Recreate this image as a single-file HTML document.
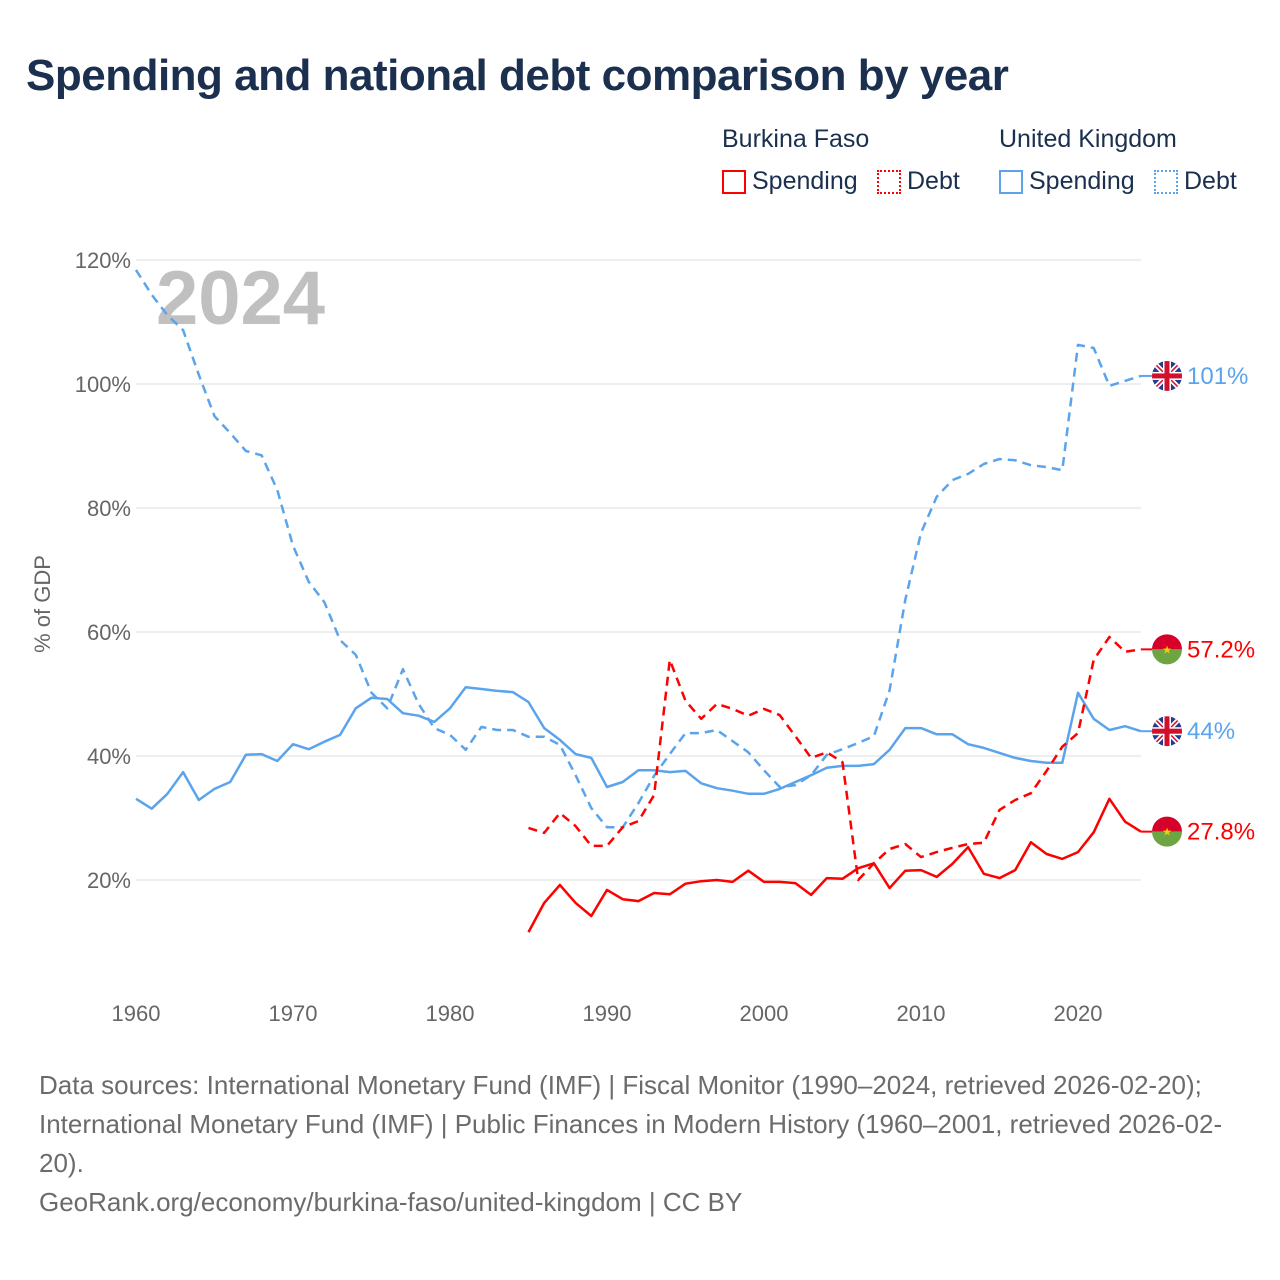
<!DOCTYPE html>
<html><head><meta charset="utf-8"><style>
body{margin:0;background:#fff;font-family:"Liberation Sans",sans-serif;}
#wrap{position:relative;width:1280px;height:1280px;overflow:hidden;}
.t{position:absolute;white-space:nowrap;}
</style></head><body>
<div id="wrap">
<div class="t" style="left:26px;top:51px;font-size:44px;font-weight:bold;color:#1b2f4e;letter-spacing:-0.5px">Spending and national debt comparison by year</div>
<div class="t" style="left:722px;top:125px;font-size:25px;color:#1b2f4e">Burkina Faso</div>
<div class="t" style="left:999px;top:125px;font-size:25px;color:#1b2f4e">United Kingdom</div>
<div class="t" style="left:722px;top:167px;font-size:25px;color:#1b2f4e"><span style="display:inline-block;width:24px;height:24px;border:2px solid #f00;vertical-align:-5px;margin-right:6px;box-sizing:border-box"></span>Spending</div>
<div class="t" style="left:877px;top:167px;font-size:25px;color:#1b2f4e"><span style="display:inline-block;width:24px;height:24px;border:2px dotted #f00;vertical-align:-5px;margin-right:6px;box-sizing:border-box"></span>Debt</div>
<div class="t" style="left:999px;top:167px;font-size:25px;color:#1b2f4e"><span style="display:inline-block;width:24px;height:24px;border:2px solid #5ba4ec;vertical-align:-5px;margin-right:6px;box-sizing:border-box"></span>Spending</div>
<div class="t" style="left:1154px;top:167px;font-size:25px;color:#1b2f4e"><span style="display:inline-block;width:24px;height:24px;border:2px dotted #5ba4ec;vertical-align:-5px;margin-right:6px;box-sizing:border-box"></span>Debt</div>
<svg id="chart" width="1280" height="1280" style="position:absolute;left:0;top:0" xmlns="http://www.w3.org/2000/svg"></svg>
<div class="t" style="left:39px;top:1066px;font-size:26px;line-height:39px;color:#6b6b6b">Data sources: International Monetary Fund (IMF) | Fiscal Monitor (1990–2024, retrieved 2026-02-20);<br>International Monetary Fund (IMF) | Public Finances in Modern History (1960–2001, retrieved 2026-02-<br>20).<br>GeoRank.org/economy/burkina-faso/united-kingdom | CC BY</div>
</div>
<script>
const yTicks=[20,40,60,80,100,120];
const xTicks=[1960,1970,1980,1990,2000,2010,2020];
const ukYears0=1960, bfYears0=1985;
const ukSpending=[33.1,31.5,33.9,37.4,32.9,34.7,35.8,40.2,40.3,39.2,41.9,41.1,42.3,43.4,47.7,49.4,49.2,46.9,46.5,45.5,47.7,51.1,50.8,50.5,50.3,48.7,44.5,42.6,40.3,39.7,35,35.8,37.7,37.7,37.4,37.6,35.6,34.8,34.4,33.9,33.9,34.7,35.8,36.9,38.1,38.4,38.4,38.7,41,44.5,44.5,43.5,43.5,41.9,41.3,40.5,39.7,39.2,38.9,38.9,50.2,46,44.2,44.8,44];
const ukDebt=[118.4,114.4,111.1,108.7,101.5,94.8,92.1,89.2,88.5,82.9,73.9,68.1,64.8,58.7,56.3,50.2,47.7,54,48.4,44.5,43.4,41,44.7,44.2,44.2,43.1,43.1,41.8,36.9,31.6,28.5,28.5,32.4,36.8,40.3,43.7,43.7,44.2,42.4,40.6,37.7,35,35.3,36.9,40.2,41.1,42.1,43.2,50.6,65.2,76,81.8,84.5,85.5,87.1,87.9,87.7,86.9,86.6,86.1,106.3,105.8,99.7,100.5,101.3];
const bfSpending=[11.6,16.3,19.2,16.3,14.2,18.4,16.9,16.6,17.9,17.7,19.4,19.8,20,19.7,21.5,19.7,19.7,19.5,17.6,20.3,20.2,21.9,22.7,18.7,21.5,21.6,20.5,22.6,25.3,21,20.3,21.6,26.1,24.2,23.4,24.5,27.7,33.1,29.4,27.8];
const bfDebt=[28.4,27.6,30.8,28.7,25.5,25.5,28.5,29.5,33.7,55.5,48.9,46,48.4,47.6,46.5,47.6,46.6,43.2,39.7,40.6,39,20,22.7,25,25.8,23.7,24.5,25.2,25.8,26,31.3,32.9,34,37.6,41.5,43.7,55.5,59.2,56.8,57.2];
const endLabels=["101%","57.2%","44%","27.8%"];

const NS="http://www.w3.org/2000/svg";
const svg=document.getElementById('chart');
const X=yr=>136+(yr-1960)*15.7;
const Y=v=>1004-v*6.2;
function mk(tag,attrs,parent){const e=document.createElementNS(NS,tag);for(const k in attrs)e.setAttribute(k,attrs[k]);(parent||svg).appendChild(e);return e;}
function txt(s,x,y,attrs){const e=mk('text',Object.assign({x:x,y:y,'font-family':'Liberation Sans, sans-serif'},attrs));e.textContent=s;return e;}

yTicks.forEach(v=>{
  const l=mk('line',{x1:136,x2:1141,y1:Y(v),y2:Y(v),stroke:'#e8e8e8','stroke-width':1.5});
  
  
  const t=txt(v+'%',131,Y(v)+8,{'font-size':22,fill:'#666','text-anchor':'end'});
  
  
});
xTicks.forEach(yr=>{
  const t=txt(String(yr),X(yr),1021,{'font-size':22,fill:'#666','text-anchor':'middle'});
  
  
});
const yt=txt('% of GDP',0,0,{'font-size':22,fill:'#666','text-anchor':'middle',transform:'translate(50,604) rotate(-90)'});


const yr=txt('2024',156,324,{'font-size':76,'font-weight':'bold',fill:'#c0c0c0'});



function series(vals,y0,color,dash,name){
  const pts=vals.map((v,i)=>X(y0+i).toFixed(1)+','+Y(v).toFixed(1)).join(' ');
  const p=mk('polyline',{points:pts,fill:'none',stroke:color,'stroke-width':2.5,'stroke-linejoin':'round','stroke-dasharray':dash||'none'});
  
  
}
series(ukDebt,ukYears0,'#5ba4ec','9,6','line-uk-debt');
series(ukSpending,ukYears0,'#5ba4ec',null,'line-uk-spending');
series(bfDebt,bfYears0,'#ff0000','9,6','line-bf-debt');
series(bfSpending,bfYears0,'#ff0000',null,'line-bf-spending');

function ukFlag(cx,cy,name){
  const g=mk('g',{});
  
  
  mk('clipPath',{id:name+'c'},g);
  mk('circle',{cx:cx,cy:cy,r:15},g.lastChild);
  const h=mk('g',{'clip-path':'url(#'+name+'c)'},g);
  mk('rect',{x:cx-15,y:cy-15,width:30,height:30,fill:'#1f3d8c'},h);
  mk('path',{d:`M${cx-15},${cy-15}L${cx+15},${cy+15}M${cx+15},${cy-15}L${cx-15},${cy+15}`,stroke:'#fff','stroke-width':5},h);
  mk('path',{d:`M${cx-15},${cy-15}L${cx+15},${cy+15}M${cx+15},${cy-15}L${cx-15},${cy+15}`,stroke:'#d0102d','stroke-width':1.5},h);
  mk('rect',{x:cx-15,y:cy-4,width:30,height:8,fill:'#fff'},h);
  mk('rect',{x:cx-4,y:cy-15,width:8,height:30,fill:'#fff'},h);
  mk('rect',{x:cx-15,y:cy-2.5,width:30,height:5,fill:'#d0102d'},h);
  mk('rect',{x:cx-2.5,y:cy-15,width:5,height:30,fill:'#d0102d'},h);
}
function bfFlag(cx,cy,name){
  const g=mk('g',{});
  
  
  mk('path',{d:`M${cx-15},${cy}A15,15 0 0 1 ${cx+15},${cy}Z`,fill:'#d6002a'},g);
  mk('path',{d:`M${cx-15},${cy}A15,15 0 0 0 ${cx+15},${cy}Z`,fill:'#6ea543'},g);
  const s=mk('text',{x:cx,y:cy+4,'font-size':11,fill:'#f5d000','text-anchor':'middle'},g);s.textContent='★';
}
const ends=[[ukDebt,'#5ba4ec','uk'],[bfDebt,'#ff0000','bf'],[ukSpending,'#5ba4ec','uk'],[bfSpending,'#ff0000','bf']];
ends.forEach((e,i)=>{
  const v=e[0][e[0].length-1];
  const cy=Y(v);
  const l=mk('line',{x1:X(2024),x2:1152,y1:cy,y2:cy,stroke:e[1],'stroke-width':2});
  
  
  if(e[2]==='uk')ukFlag(1167,cy,'flag-uk-'+i);else bfFlag(1167,cy,'flag-bf-'+i);
  const t=txt(endLabels[i],1187,cy+8,{'font-size':24,fill:e[1]});
  
  
});
</script>
</body></html>
